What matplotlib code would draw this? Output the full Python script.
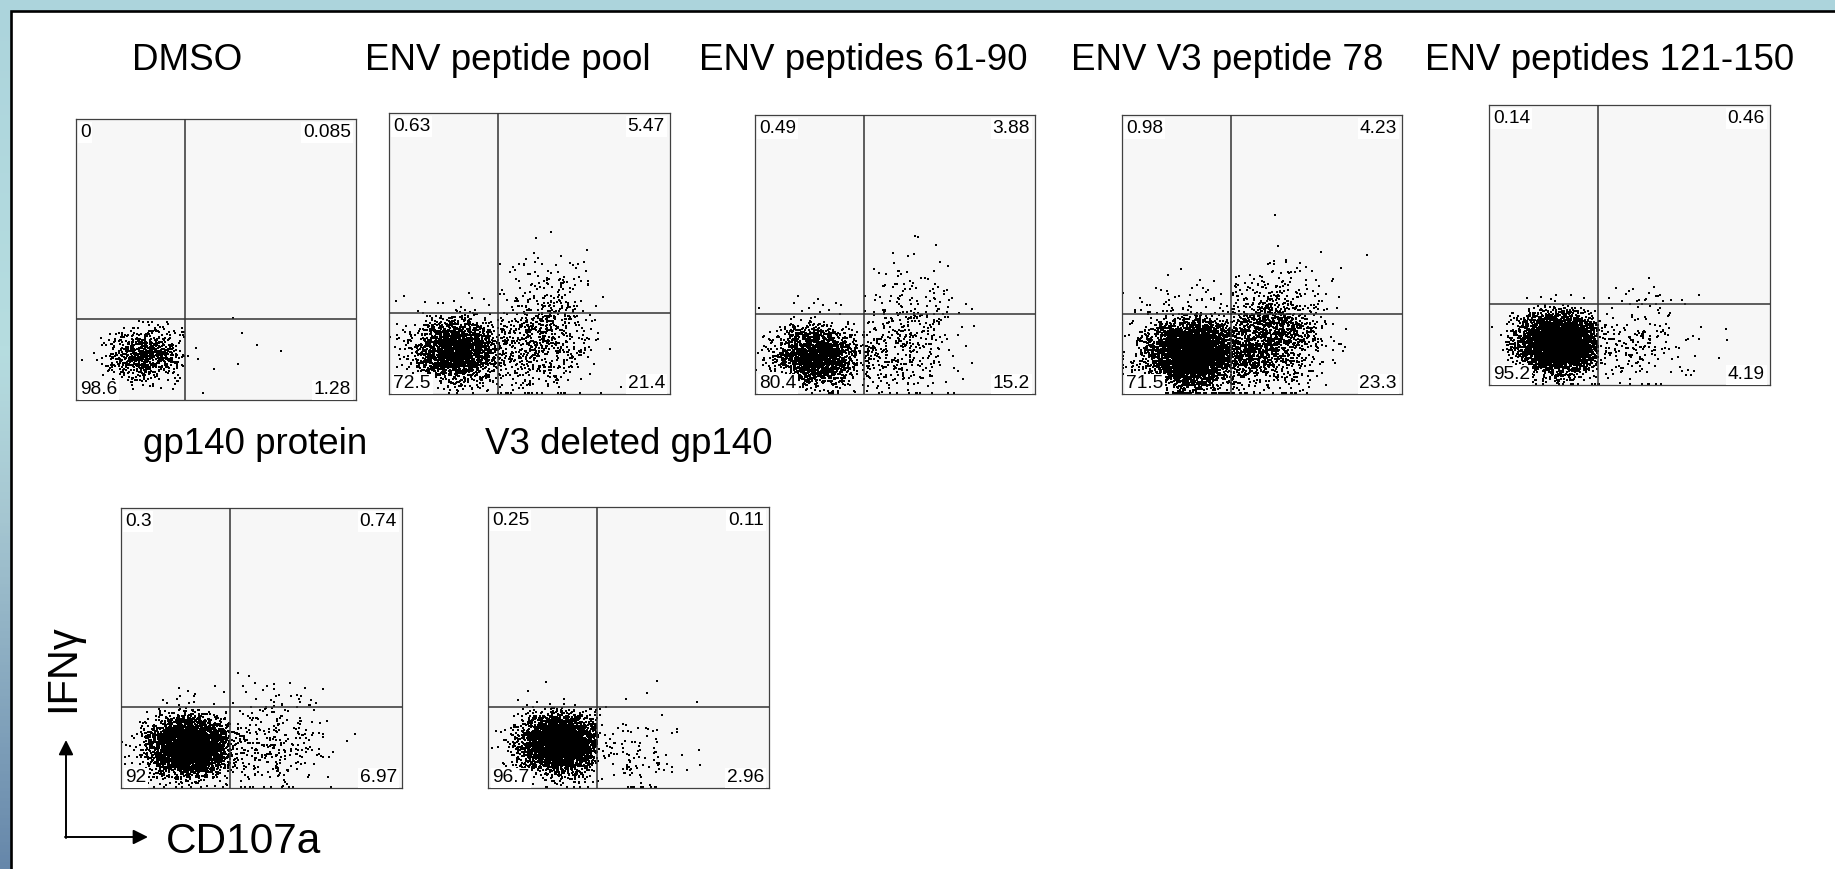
import numpy as np
import matplotlib.pyplot as plt
from matplotlib.colors import LinearSegmentedColormap
from matplotlib.patches import Rectangle

plt.rcParams['font.family'] = ['Liberation Sans', 'DejaVu Sans']

W, H = 1835, 869

# stimulation conditions
titles = ['DMSO', 'ENV peptide pool', 'ENV peptides 61-90', 'ENV V3 peptide 78',
          'ENV peptides 121-150', 'gp140 protein', 'V3 deleted gp140']

# quadrant frequencies (%)
q_ul = [0, 0.63, 0.49, 0.98, 0.14, 0.3, 0.25]
q_ur = [0.085, 5.47, 3.88, 4.23, 0.46, 0.74, 0.11]
q_ll = [98.6, 72.5, 80.4, 71.5, 95.2, 92, 96.7]
q_lr = [1.28, 21.4, 15.2, 23.3, 4.19, 6.97, 2.96]
q_ul_txt = ['0', '0.63', '0.49', '0.98', '0.14', '0.3', '0.25']
q_ur_txt = ['0.085', '5.47', '3.88', '4.23', '0.46', '0.74', '0.11']
q_ll_txt = ['98.6', '72.5', '80.4', '71.5', '95.2', '92', '96.7']
q_lr_txt = ['1.28', '21.4', '15.2', '23.3', '4.19', '6.97', '2.96']

# events shown per plot
n_events = [800, 3000, 2500, 6000, 5000, 4500, 4000]

# CD107a- main population (centre x, centre y, sd x, sd y), scaled display units
main_pop = [(0.25, 0.166, 0.07, 0.045), (0.24, 0.157, 0.075, 0.055),
            (0.22, 0.134, 0.07, 0.05), (0.25, 0.145, 0.08, 0.06),
            (0.25, 0.149, 0.07, 0.05), (0.245, 0.148, 0.07, 0.05),
            (0.255, 0.158, 0.065, 0.05)]
# responding population
resp_pop = [(0.52, 0.15, 0.09, 0.07), (0.56, 0.22, 0.08, 0.10),
            (0.55, 0.19, 0.08, 0.10), (0.53, 0.22, 0.09, 0.09),
            (0.56, 0.15, 0.09, 0.08), (0.55, 0.15, 0.09, 0.08),
            (0.55, 0.12, 0.07, 0.07)]

gate_x, gate_y = 0.388, 0.288

# plot boxes in pixels: left, top, right, bottom
boxes = [(76, 119, 356, 400), (389, 113, 670, 394), (755, 115, 1035, 394),
         (1122, 115, 1402, 394), (1489, 105, 1770, 385),
         (121, 508, 402, 788), (488, 507, 769, 788)]
title_pos = [(187, 61), (508, 61), (863, 61), (1227, 61), (1610, 61),
             (255, 445), (629, 445)]

rng = np.random.default_rng(7)


def draw(n, pop, scale_x, scale_y, inside):
    cx, cy, sx, sy = pop
    out = np.empty((0, 2))
    while len(out) < n:
        pts = rng.normal([cx, cy], [sx * scale_x, sy * scale_y], size=(20000, 2))
        pts = np.clip(pts, 0.004, 0.996)
        out = np.vstack([out, pts[inside(pts)]])
    return out[:n]


in_ll = lambda p: (p[:, 0] < gate_x) & (p[:, 1] < gate_y)
in_ul = lambda p: (p[:, 0] < gate_x) & (p[:, 1] >= gate_y)
in_lr = lambda p: (p[:, 0] >= gate_x) & (p[:, 1] < gate_y)
in_ur = lambda p: (p[:, 0] >= gate_x) & (p[:, 1] >= gate_y)

fig = plt.figure(figsize=(W / 100, H / 100), dpi=100)

# slide background
bg = fig.add_axes([0, 0, 1, 1])
bg.set_zorder(-1)
grad = LinearSegmentedColormap.from_list(
    'slide', [(0, '#acd4dc'), (0.4, '#b6dde0'), (0.6, '#a5c6d1'),
              (0.8, '#86a7be'), (1, '#6687aa')])
bg.imshow(np.linspace(0, 1, 256)[:, None], cmap=grad, aspect='auto',
          extent=[0, W, H, 0])
bg.add_patch(Rectangle((11, 11), W + 20, H + 20, facecolor='white',
                       edgecolor='black', lw=1.9))
bg.set_xlim(0, W)
bg.set_ylim(H, 0)
bg.axis('off')

for i, t in enumerate(titles):
    bg.text(title_pos[i][0], title_pos[i][1], t, fontsize=26.5,
            ha='center', va='center')

    l, t_, r, b = boxes[i]
    ax = fig.add_axes([l / W, 1 - b / H, (r - l) / W, (b - t_) / H])
    ax.set_facecolor('#f7f7f7')
    ax.set_xlim(0, 1)
    ax.set_ylim(0, 1)
    ax.set_xticks([])
    ax.set_yticks([])
    for s in ax.spines.values():
        s.set_color('#404040')
        s.set_linewidth(0.9)

    n = n_events[i]
    counts = [int(round(q / 100 * n)) for q in (q_ll[i], q_ul[i], q_lr[i], q_ur[i])]
    pts = [draw(counts[0], main_pop[i], 1.0, 1.0, in_ll),
           draw(counts[1], main_pop[i], 1.5, 1.7, in_ul)]
    n_lr_main = counts[2] // 4
    pts.append(draw(n_lr_main, main_pop[i], 1.6, 1.2, in_lr))
    pts.append(draw(counts[2] - n_lr_main, resp_pop[i], 1.0, 1.0, in_lr))
    pts.append(draw(counts[3], resp_pop[i], 1.1, 1.2, in_ur))
    pts = np.vstack(pts)
    ax.scatter(pts[:, 0], pts[:, 1], s=3.2, marker='s', c='black',
               linewidths=0, zorder=2)

    ax.axvline(gate_x, color='#333333', lw=1.1, zorder=3)
    ax.axhline(gate_y, color='#333333', lw=1.1, zorder=3)

    lab = dict(fontsize=13.8, zorder=5, clip_on=False, transform=ax.transAxes,
               bbox=dict(facecolor='white', edgecolor='none', pad=1.2))
    ax.text(0.014, 0.982, q_ul_txt[i], ha='left', va='top', **lab)
    ax.text(0.982, 0.982, q_ur_txt[i], ha='right', va='top', **lab)
    ax.text(0.016, 0.006, q_ll_txt[i], ha='left', va='bottom', **lab)
    ax.text(0.982, 0.006, q_lr_txt[i], ha='right', va='bottom', **lab)

# axis key
arrow = dict(arrowstyle='-|>', mutation_scale=22, lw=1.4, color='black',
             shrinkA=0, shrinkB=0)
bg.annotate('', xy=(66, 740), xytext=(66, 838), arrowprops=arrow)
bg.annotate('', xy=(148, 837), xytext=(65, 837), arrowprops=arrow)
bg.text(63, 668, 'IFNγ', fontsize=30, rotation=90, ha='center', va='center')
bg.text(166, 842, 'CD107a', fontsize=30.5, ha='left', va='center')

fig.savefig('out.png', dpi=100)
